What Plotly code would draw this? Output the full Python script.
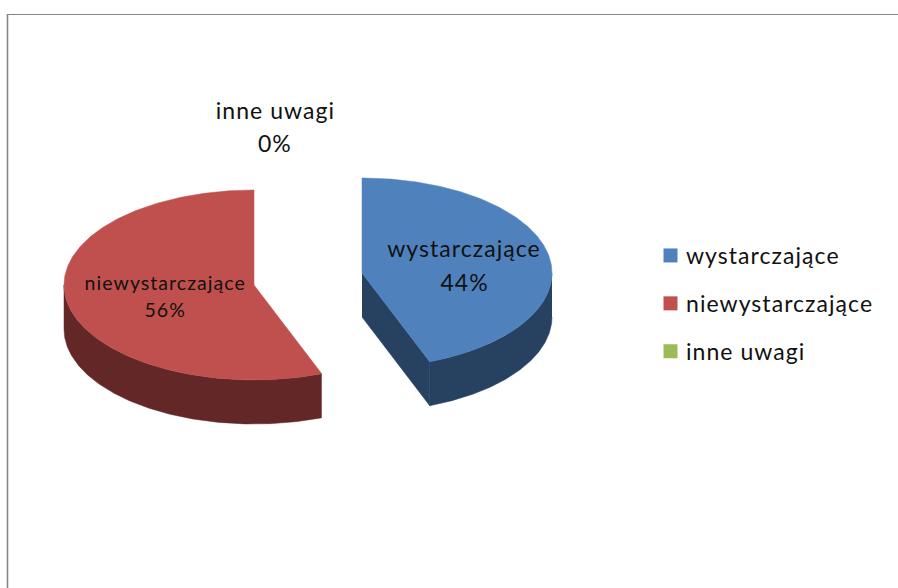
import numpy as np
import plotly.graph_objects as go

# Data
categories = ["wystarczające", "niewystarczające", "inne uwagi"]
values = [44.2, 55.8, 0.0]
percent_labels = ["44%", "56%", "0%"]

# Style and layout
top_colors = ["#4F81BD", "#C0504D", "#9BBB59"]
side_colors = ["#274161", "#622726", "#4E5E2C"]
centres = [(362, 273), (254, 285)]
RX, RY, DEPTH = 190, 95, 44
W, H = 898, 588
FONT = "Lato"
LEGEND_SIZE = 23


def pt(c, t, d=0.0):
    t = np.asarray(t, dtype=float)
    return c[0] + RX * np.sin(t), c[1] - RY * np.cos(t) + d


fig = go.Figure()
total = sum(values)
starts = np.cumsum([0] + values[:-1]) / total * 2 * np.pi
ends = np.cumsum(values) / total * 2 * np.pi


def poly(x, y, color):
    fig.add_trace(go.Scatter(x=list(x), y=list(y), mode="lines", fill="toself",
                             fillcolor=color, line=dict(color=color, width=0.5),
                             hoverinfo="skip", showlegend=False))


for i, c in enumerate(centres):
    s, e = starts[i], ends[i]
    # outer rim: the part of the arc on the front half of the ellipse
    a, b = max(s, np.pi / 2), min(e, 3 * np.pi / 2)
    t = np.linspace(a, b, 160)
    x1, y1 = pt(c, t)
    x2, y2 = pt(c, t[::-1], DEPTH)
    poly(np.r_[x1, x2], np.r_[y1, y2], side_colors[i])
    # cut face, visible when the slice ends in the lower right quadrant
    if np.pi / 2 < e < np.pi:
        ex, ey = pt(c, e)
        poly([c[0], ex, ex, c[0]], [c[1], ey, ey + DEPTH, c[1] + DEPTH], side_colors[i])
    # top face
    t = np.linspace(s, e, 240)
    x, y = pt(c, t)
    poly(np.r_[c[0], x, c[0]], np.r_[c[1], y, c[1]], top_colors[i])

# Legend entries
for name, col in zip(categories, top_colors):
    fig.add_trace(go.Scatter(x=[None], y=[None], mode="markers", name=name, legendgroup=name,
                             marker=dict(symbol="square", size=14, color=col, line=dict(width=0)),
                             hoverinfo="skip"))

# Data labels
label_spec = [
    (0, 464, 248, 282, 23),
    (1, 165, 282, 309, 19.5),
    (2, 275, 110, 143, 23),
]
for i, x, y1, y2, size in label_spec:
    for txt, y in ((categories[i], y1), (percent_labels[i], y2)):
        fig.add_annotation(x=x, y=y, text=txt, showarrow=False, xanchor="center", yanchor="middle",
                           font=dict(family=FONT, size=size, color="#111111"))

# Chart area frame
fig.add_shape(type="line", xref="x", yref="y", x0=7, x1=W, y0=14.5, y1=14.5,
              line=dict(color="#868686", width=1.2))
fig.add_shape(type="line", xref="x", yref="y", x0=7.5, x1=7.5, y0=14, y1=H,
              line=dict(color="#868686", width=1.6))

fig.update_layout(
    width=W, height=H, autosize=False,
    margin=dict(l=0, r=0, t=0, b=0),
    paper_bgcolor="white", plot_bgcolor="white",
    xaxis=dict(range=[0, W], visible=False, fixedrange=True),
    yaxis=dict(range=[H, 0], visible=False, fixedrange=True),
    font=dict(family=FONT, color="#111111"),
    legend=dict(x=650.5 / W, y=1 - 234 / H, xanchor="left", yanchor="top",
                font=dict(family=FONT, size=LEGEND_SIZE, color="#111111"),
                tracegroupgap=15, itemclick=False, itemdoubleclick=False,
                entrywidth=205, entrywidthmode="pixels",
                bgcolor="rgba(0,0,0,0)", borderwidth=0),
    hovermode=False,
)

post = """
document.documentElement.style.overflow = 'hidden';
document.body.style.margin = '0';
document.body.style.overflow = 'hidden';
var gd = document.getElementsByClassName('plotly-graph-div')[0];
gd.querySelectorAll('.annotation-text, .legendtext').forEach(function (el) {
  el.style.letterSpacing = '1.05px';
});
gd.querySelectorAll('.legendtext').forEach(function (el) {
  el.setAttribute('x', parseFloat(el.getAttribute('x')) - 4.5);
});
gd.querySelectorAll('.legend .scrollbox').forEach(function (el) {
  el.removeAttribute('clip-path');
});
"""
fig.write_html("out.html", post_script=post, config={"displayModeBar": False})
